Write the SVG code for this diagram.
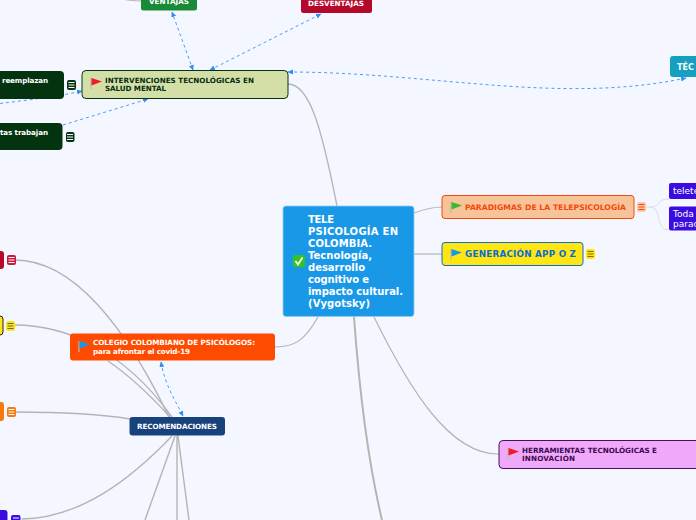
<svg xmlns="http://www.w3.org/2000/svg" width="696" height="520" viewBox="0 0 696 520">
<defs>
<marker id="arr" markerWidth="7" markerHeight="7" refX="5" refY="3" orient="auto-start-reverse" markerUnits="userSpaceOnUse"><path d="M0,0.500 L5.500,3 L0,5.500 Z" fill="#2f8cf0"/></marker>
<g id="flag"><path d="M0,-5 V6" stroke="#c0b8a8" stroke-width="1.2" fill="none"/><path d="M0.500,-5 L11,-1.500 L0.500,2.500 Z"/></g>
<g id="check"><rect x="-6" y="-6" width="12" height="12" rx="2" fill="#35c41f"/><path d="M-3.500,0 L-1,3.500 L3.500,-3.500" stroke="#fff" stroke-width="1.800" fill="none"/></g>
</defs>
<style>
text{font-family:"DejaVu Sans",Verdana,sans-serif;font-weight:bold}
.w{fill:#fff}
.c{fill:none;stroke:#b4b4b4}
.d{fill:none;stroke:#4a9cf5;stroke-width:1;stroke-dasharray:3 3;marker-start:url(#arr);marker-end:url(#arr)}
.s{font-size:7.2px}
.t{font-size:10px}
.ml{stroke-width:1;fill:none}
.r{font-weight:normal;font-size:9px;fill:#fff}
</style>
<rect width="696" height="520" fill="#f4f7ff"/>
<g id="connectors">
<path class="c" stroke-width="1.300" d="M288,84 C310,84 322,130 337,206"/>
<path class="c" stroke-width="1.200" d="M414,213 C425,209 432,207 442,207"/>
<path class="c" stroke-width="1.200" d="M414,254 H442"/>
<path class="c" stroke-width="1.200" d="M374,317 C410,390 450,455 499,454"/>
<path class="c" stroke-width="2" d="M354,317 C360,400 370,470 382,520"/>
<path class="c" stroke-width="1.200" d="M275,347 C295,347 305,340 318,317"/>
<path class="c" stroke-width="1.400" d="M15,260 C70,260 125,320 178,436"/>
<path class="c" stroke-width="1.400" d="M15,325 C60,325 120,345 172,417"/>
<path class="c" stroke-width="1.400" d="M108,361 C130,376 150,395 170,417"/>
<path class="c" stroke-width="1.400" d="M15,412 C70,412 100,414 130,419"/>
<path class="c" stroke-width="1.400" d="M22,519 C80,518 130,480 172,436"/>
<path class="c" stroke-width="1.400" d="M175,436 L145,520"/>
<path class="c" stroke-width="1.400" d="M177,436 V520"/>
<path class="c" stroke-width="1.400" d="M178,436 L189,520"/>
<path class="c" stroke-width="1" d="M120,-1 C128,0 135,1 141,1"/>
<path class="c" stroke-width="0.800" d="M646,207 H650 C662,207 655,199 669,199 M650,207 C662,207 655,230 669,230" style="stroke:#d4d4dc"/>
<path class="d" d="M193,70 L172,12"/>
<path class="d" d="M210,70 L321,14"/>
<path class="d" d="M288,72 C430,72 560,105 686,78"/>
<path class="d" d="M-30,107 C30,100 55,97 82,91"/>
<path class="d" style="marker-start:none" d="M63,125 L148,99"/>
<path class="d" d="M161,362 C165,385 175,400 183,416"/>
</g>
<g id="n-ventajas"><rect x="141" y="-12" width="56" height="22.500" rx="2.500" fill="#1a8a38"/><text class="w s" x="149" y="4" textLength="40">VENTAJAS</text></g>
<g id="n-desventajas"><rect x="301" y="-12" width="71" height="25" rx="2.500" fill="#b5092b"/><text class="w s" x="308" y="6" textLength="56">DESVENTAJAS</text></g>
<g id="n-intervenciones"><rect x="82" y="70.500" width="206" height="28" rx="4" fill="#d4dfa8" stroke="#04330f" stroke-width="1"/><use href="#flag" x="91" y="83" fill="#ee1c25"/><text x="105" y="83" class="s" fill="#062d12" textLength="149">INTERVENCIONES TECNOLÓGICAS EN</text><text x="105" y="91" class="s" fill="#062d12" textLength="61">SALUD MENTAL</text></g>
<g id="n-reemplazan"><rect x="-40" y="71" width="104" height="28" rx="4" fill="#04330f"/><text class="w s" x="2" y="83" textLength="46">reemplazan</text><rect x="67" y="80" width="9" height="10" rx="2" fill="#04330f"/><path class="ml" stroke="#fff" d="M68.500,82.500h6M68.500,85h6M68.500,87.500h6"/></g>
<g id="n-trabajan"><rect x="-40" y="123" width="102.500" height="27" rx="4" fill="#04330f"/><text class="w s" x="0" y="135" textLength="48">tas trabajan</text><rect x="66" y="132" width="8.500" height="10" rx="2" fill="#04330f"/><path class="ml" stroke="#fff" d="M67,134.500h6M67,137h6M67,139.500h6"/></g>
<g id="n-tecnicas"><rect x="670" y="56" width="50" height="21" rx="3" fill="#16a0c0"/><text class="w" font-size="8" x="677" y="70">TÉC</text></g>
<g id="n-central"><rect x="283" y="206" width="131" height="110.500" rx="3" fill="#1a98e8" stroke="#8fcaf5" stroke-width="0.800"/><use href="#check" x="299" y="261"/><text class="w t" x="308" y="223" textLength="26">TELE</text><text class="w t" x="308" y="235" textLength="90">PSICOLOGÍA EN</text><text class="w t" x="308" y="247" textLength="64">COLOMBIA.</text><text class="w t" x="308" y="259" textLength="64">Tecnología,</text><text class="w t" x="308" y="271" textLength="57">desarrollo</text><text class="w t" x="308" y="283" textLength="61">cognitivo e</text><text class="w t" x="308" y="295" textLength="95">impacto cultural.</text><text class="w t" x="308" y="307" textLength="62">(Vygotsky)</text></g>
<g id="n-paradigmas"><rect x="442" y="195.500" width="192" height="23" rx="3" fill="#f7c49a" stroke="#f5470a" stroke-width="1"/><use href="#flag" x="451" y="207" fill="#3fb82a"/><text x="465" y="210" font-size="7.700" fill="#f5470a" textLength="161">PARADIGMAS DE LA TELEPSICOLOGÍA</text><rect x="637" y="202" width="9" height="10" rx="2" fill="#fbc8a8"/><path class="ml" stroke="#f5470a" d="M638.500,204.500h6M638.500,207h6M638.500,209.500h6"/></g>
<g id="n-teletrabajo"><rect x="669" y="183" width="50" height="16" rx="2" fill="#3a0ce0"/><text x="673" y="194" class="r">telete</text></g>
<g id="n-toda"><rect x="669" y="206.500" width="50" height="24" rx="2" fill="#3a0ce0"/><text x="673" y="217" class="r">Toda p</text><text x="673" y="226.500" class="r">parad</text></g>
<g id="n-generacion"><rect x="442" y="242.500" width="141" height="23" rx="3" fill="#ffe610" stroke="#0a6cd4" stroke-width="1"/><use href="#flag" x="451" y="254" fill="#1a98e8"/><text x="465" y="257" font-size="8.800" fill="#0a6cd4" textLength="111">GENERACIÓN APP O Z</text><rect x="586" y="249" width="9" height="10" rx="2" fill="#ffe610"/><path class="ml" stroke="#806f00" d="M587.500,251.500h6M587.500,254h6M587.500,256.500h6"/></g>
<g id="n-colegio"><rect x="70" y="333.500" width="205" height="27" rx="3" fill="#ff4b00"/><use href="#flag" x="79" y="346" fill="#1a98e8"/><text class="w s" x="93" y="345" textLength="162">COLEGIO COLOMBIANO DE PSICÓLOGOS:</text><text class="w s" x="93" y="354" textLength="97">para afrontar el covid-19</text></g>
<g id="n-recomendaciones"><rect x="129.500" y="417" width="95.500" height="18.500" rx="3" fill="#17427c"/><text class="w s" x="137" y="429" textLength="80">RECOMENDACIONES</text></g>
<g id="n-herramientas"><rect x="499" y="440.500" width="220" height="28" rx="4" fill="#f0a8fa" stroke="#4a0e5a" stroke-width="1"/><use href="#flag" x="508" y="453" fill="#ee1c25"/><text x="522" y="453" class="s" fill="#3c0a50" textLength="135">HERRAMIENTAS TECNOLÓGICAS E</text><text x="522" y="461" class="s" fill="#3c0a50" textLength="53">INNOVACIÓN</text></g>
<g id="n-rojo"><rect x="-20" y="251" width="24" height="18" rx="3" fill="#b5092b"/><rect x="7" y="255" width="9" height="10" rx="2" fill="#c8183c"/><path class="ml" stroke="#fff" d="M8.500,257.500h6M8.500,260h6M8.500,262.500h6"/></g>
<g id="n-amarillo"><rect x="-20" y="316" width="23" height="19" rx="3" fill="#ffe610" stroke="#222" stroke-width="1"/><rect x="6" y="321" width="9" height="10" rx="2" fill="#ffe610"/><path class="ml" stroke="#665" d="M7.500,323.500h6M7.500,326h6M7.500,328.500h6"/></g>
<g id="n-naranja"><rect x="-20" y="402" width="24" height="19" rx="3" fill="#f57a0a"/><rect x="7" y="407" width="9" height="10" rx="2" fill="#f57a0a"/><path class="ml" stroke="#fff" d="M8.500,409.500h6M8.500,412h6M8.500,414.500h6"/></g>
<g id="n-azul"><rect x="-20" y="510" width="27.500" height="20" rx="3" fill="#3a0ce0"/><rect x="11" y="515" width="9.500" height="10" rx="2" fill="#3a0ce0"/><path class="ml" stroke="#fff" d="M13,518h6M13,520.500h6"/></g>
</svg>
